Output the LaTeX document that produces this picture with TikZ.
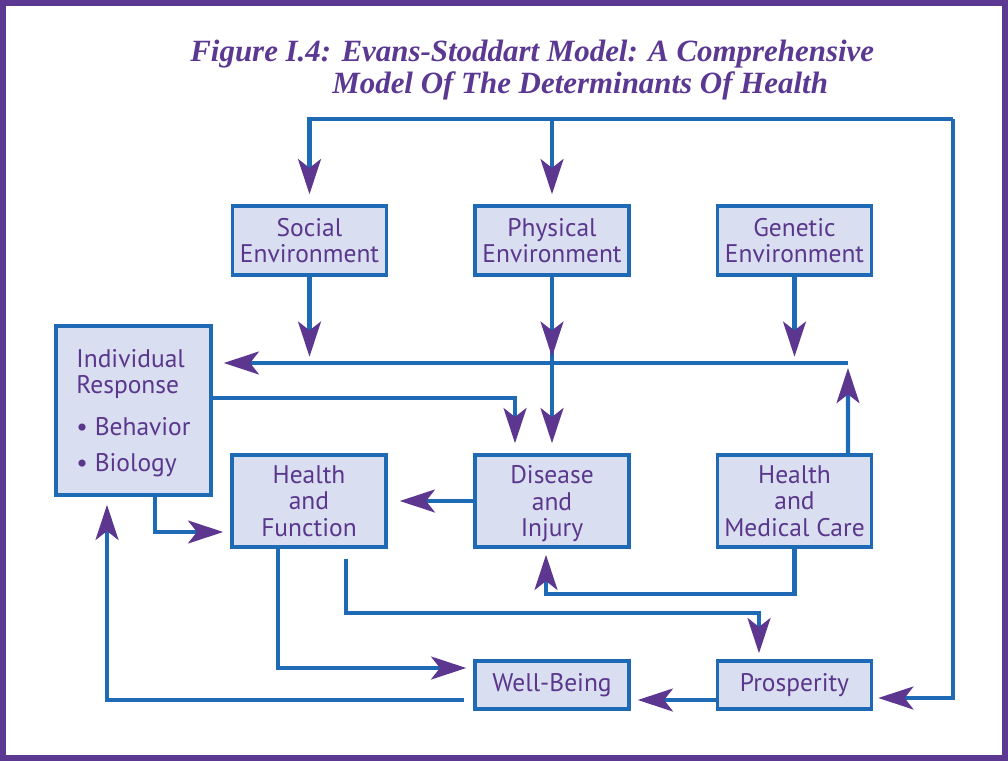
\documentclass[tikz,border=0pt]{standalone}
\usepackage{fontspec}
\setmainfont{PT Sans}
\newfontfamily\titlefont{Liberation Serif}
\usetikzlibrary{arrows.meta}
\definecolor{marco}{RGB}{91,56,145}
\definecolor{linea}{RGB}{30,106,180}
\definecolor{relleno}{RGB}{217,222,240}
\definecolor{texto}{RGB}{90,55,140}
\definecolor{punta}{RGB}{92,54,143}
\newcommand{\sinbajo}[1]{\raisebox{0pt}[\height][0pt]{#1}}
\tikzset{
  caja/.style={draw=linea, fill=relleno, line width=2pt, text=texto, align=center,
    minimum width=3.08cm, minimum height=1.38cm, inner sep=2pt,
    font=\fontsize{14.5}{15}\selectfont},
  flecha/.style={draw=linea, line width=2.3pt,
    -{Stealth[length=20pt,width=13pt,inset=5pt,color=punta]}},
  titulo/.style={anchor=base west, text=marco, inner sep=0pt,
    font=\titlefont\bfseries\itshape\fontsize{17.6}{20}\selectfont},
}
\begin{document}
\begin{tikzpicture}[x=0.02cm, y=-0.02cm]
  \useasboundingbox (0,0) rectangle (1008,761);
  \draw[marco, line width=0.12cm] (3,3) rectangle (1005,758);
  % el titulo
  \node[titulo] (tit1) at (190,61) {Figure I.4: Evans-Stoddart Model: A Comprehensive};
  \node[titulo] (tit2) at (332,93) {Model Of The Determinants Of Health};
  % las cajas
  \node[caja] (soc) at (309.5,240.5) {Social\\Environment};
  \node[caja] (phy) at (552,240.5) {Physical\\Environment};
  \node[caja] (gen) at (794.5,240.5) {Genetic\\Environment};
  \node[caja, align=left, minimum width=3.1cm, minimum height=3.38cm] (ind) at (133.5,410.5)
    {Individual\\Response\\[8.7pt]\textbullet\ Behavior\\[6pt]\sinbajo{\textbullet\ Biology}};
  \node[caja, minimum height=1.84cm] (hf) at (309,501) {Health\\and\\Function};
  \node[caja, minimum height=1.84cm] (dis) at (552,501) {Disease\\and\\\sinbajo{Injury}};
  \node[caja, minimum height=1.84cm] (hmc) at (794.5,501) {Health\\and\\Medical Care};
  \node[caja, minimum height=0.96cm] (wb) at (552,685) {Well-Being};
  \node[caja, minimum height=0.96cm] (pro) at (794.5,685) {Prosperity};
  % el lazo de vuelta desde la prosperidad
  \coordinate (back) at (953,119);
  \draw[flecha, shorten >=0.2cm] (back) -| (soc.north);
  \draw[flecha, shorten >=0.2cm] (phy.north |- back) -- (phy.north);
  \draw[flecha, shorten >=0.1cm] (back) |- ([yshift=-0.26cm]pro.east);
  % los entornos
  \coordinate (junc) at (848,363);
  \draw[flecha, shorten >=0.22cm] (junc) -- (ind.east |- junc);
  \draw[flecha, shorten >=0.2cm] (phy.south) -- (dis.north);
  \foreach \n in {soc,phy,gen} {
    \draw[flecha] (\n.south) -- ++(0,80);
  }
  \draw[flecha, shorten >=0.1cm] ([xshift=1.07cm]hmc.north) -- (junc);
  % respuesta individual
  \draw[flecha, shorten >=0.2cm] ([yshift=0.25cm]ind.east) -| ([xshift=-0.74cm]dis.north);
  \draw[flecha, shorten >=0.14cm] ([xshift=0.43cm]ind.south) |- ([yshift=-0.62cm]hf.west);
  % fila del medio
  \draw[flecha, shorten >=0.24cm] (dis.west) -- (hf.east);
  \draw[flecha, shorten >=0.12cm] (hmc.south) -- ++(0,45) -| ([xshift=-0.12cm]dis.south);
  % hacia abajo
  \draw[flecha, shorten <=0.2cm, shorten >=0.12cm] ([xshift=0.74cm]hf.south) -- ++(0,64) -| ([xshift=-0.71cm]pro.north);
  \draw[flecha, shorten >=0.14cm] ([xshift=-0.62cm]hf.south) |- ([yshift=0.34cm]wb.west);
  \draw[flecha, shorten >=0.14cm] ([yshift=-0.3cm]pro.west) -- ([yshift=-0.3cm]wb.east);
  \draw[flecha, shorten <=0.18cm, shorten >=0.16cm] ([yshift=-0.3cm]wb.west) -| ([xshift=-0.53cm]ind.south);
\end{tikzpicture}
\end{document}
